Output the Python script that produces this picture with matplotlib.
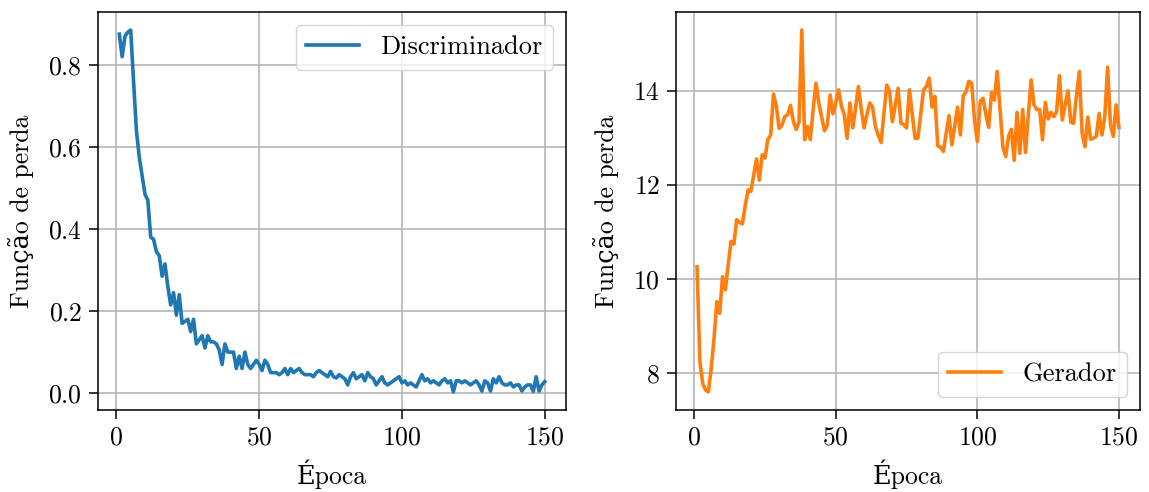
import numpy as np
import matplotlib
matplotlib.use("Agg")
import matplotlib.pyplot as plt
from matplotlib.ticker import MultipleLocator

plt.rcParams['font.family'] = ['cmr10', 'DejaVu Serif']
plt.rcParams['mathtext.fontset'] = 'cm'
plt.rcParams['axes.formatter.use_mathtext'] = True
plt.rcParams['font.size'] = 18.5
plt.rcParams['axes.labelsize'] = 18.5
plt.rcParams['legend.fontsize'] = 19
plt.rcParams['xtick.major.size'] = 6.5
plt.rcParams['ytick.major.size'] = 6.5
plt.rcParams['xtick.major.pad'] = 5
plt.rcParams['ytick.major.pad'] = 5
plt.rcParams['xtick.major.width'] = 1.1
plt.rcParams['ytick.major.width'] = 1.1
plt.rcParams['axes.linewidth'] = 1.1
plt.rcParams['grid.linewidth'] = 1.1

# perda do discriminador por época
disc = [0.875, 0.82, 0.87, 0.88, 0.885, 0.76, 0.64, 0.575, 0.53, 0.485,
        0.47, 0.38, 0.375, 0.345, 0.335, 0.285, 0.315, 0.26, 0.215, 0.245,
        0.19, 0.24, 0.17, 0.175, 0.18, 0.15, 0.18, 0.12, 0.13, 0.14,
        0.11, 0.14, 0.125, 0.125, 0.12, 0.105, 0.07, 0.12, 0.10, 0.10,
        0.10, 0.06, 0.09, 0.06, 0.10, 0.07, 0.06, 0.07, 0.08, 0.07,
        0.055, 0.08, 0.07, 0.05, 0.05, 0.05, 0.045, 0.05, 0.06, 0.045,
        0.06, 0.05, 0.055, 0.06, 0.05, 0.045, 0.045, 0.045, 0.04, 0.05,
        0.055, 0.05, 0.045, 0.04, 0.053, 0.04, 0.037, 0.045, 0.04, 0.035,
        0.02, 0.04, 0.05, 0.035, 0.04, 0.045, 0.03, 0.05, 0.04, 0.035,
        0.02, 0.03, 0.04, 0.025, 0.02, 0.025, 0.03, 0.035, 0.04, 0.025,
        0.03, 0.02, 0.025, 0.02, 0.015, 0.03, 0.045, 0.03, 0.035, 0.025,
        0.03, 0.025, 0.02, 0.03, 0.035, 0.025, 0.03, 0.003, 0.03, 0.03,
        0.025, 0.03, 0.025, 0.02, 0.025, 0.03, 0.02, 0.005, 0.03, 0.025,
        0.005, 0.035, 0.025, 0.04, 0.025, 0.02, 0.02, 0.025, 0.015, 0.02,
        0.02, 0.005, 0.015, 0.02, 0.02, 0.004, 0.04, 0.005, 0.02, 0.028]

# perda do gerador por época
ger = [10.26, 8.24, 7.78, 7.64, 7.6, 8.1, 8.74, 9.52, 9.27, 10.05,
       9.77, 10.3, 10.8, 10.74, 11.26, 11.2, 11.17, 11.55, 11.89, 11.86,
       12.2, 12.55, 12.1, 12.64, 12.57, 12.96, 13.06, 13.93, 13.67, 13.2,
       13.27, 13.45, 13.49, 13.69, 13.35, 13.18, 13.33, 15.29, 12.96, 13.24,
       12.96, 13.6, 14.16, 13.74, 13.45, 13.15, 13.27, 13.91, 13.51, 13.75,
       14.02, 13.67, 13.49, 12.99, 13.74, 13.21, 13.65, 14.09, 13.6, 13.21,
       13.5, 13.74, 13.65, 13.24, 13.05, 12.9, 13.5, 14.12, 13.98, 13.34,
       13.7, 14.05, 13.31, 13.28, 13.21, 14.02, 13.5, 12.99, 12.99, 13.5,
       14.02, 14.09, 14.27, 13.65, 13.88, 12.83, 12.8, 12.71, 13.1, 13.47,
       12.85, 13.25, 13.65, 13.06, 13.89, 13.98, 14.2, 14.16, 13.38, 12.92,
       13.77, 13.84, 13.5, 13.22, 13.96, 13.8, 14.41, 13.6, 12.81, 12.6,
       13.03, 13.18, 12.52, 13.54, 12.67, 13.6, 12.69, 13.5, 14.23, 13.7,
       13.6, 13.6, 12.96, 13.75, 13.4, 13.54, 13.45, 13.56, 14.32, 13.38,
       13.7, 14.0, 13.33, 13.31, 13.9, 14.41, 13.1, 12.81, 13.44, 12.97,
       12.99, 13.03, 13.52, 13.06, 13.45, 14.5, 13.28, 13.03, 13.7, 13.22]

epocas = np.arange(1, len(disc) + 1)

fig = plt.figure(figsize=(11.49, 4.92), dpi=100)
ax1 = fig.add_axes([0.0853, 0.1667, 0.4073, 0.809])
ax2 = fig.add_axes([0.5883, 0.1667, 0.4039, 0.809])

ax1.plot(epocas, disc, color='C0', lw=2.6, label='Discriminador')
ax1.xaxis.set_major_locator(MultipleLocator(50))
ax1.yaxis.set_major_locator(MultipleLocator(0.2))
ax1.set_xlabel('Época', labelpad=7)
ax1.set_ylabel('Função de perda', labelpad=10)
ax1.grid(True)
ax1.legend(loc='upper right', handlelength=2.0)

ax2.plot(epocas, ger, color='C1', lw=2.6, label='Gerador')
ax2.xaxis.set_major_locator(MultipleLocator(50))
ax2.yaxis.set_major_locator(MultipleLocator(2))
ax2.set_xlabel('Época', labelpad=7)
ax2.set_ylabel('Função de perda', labelpad=10)
ax2.grid(True)
ax2.legend(loc='lower right', handlelength=2.0)

plt.savefig('out.png', dpi=100)
